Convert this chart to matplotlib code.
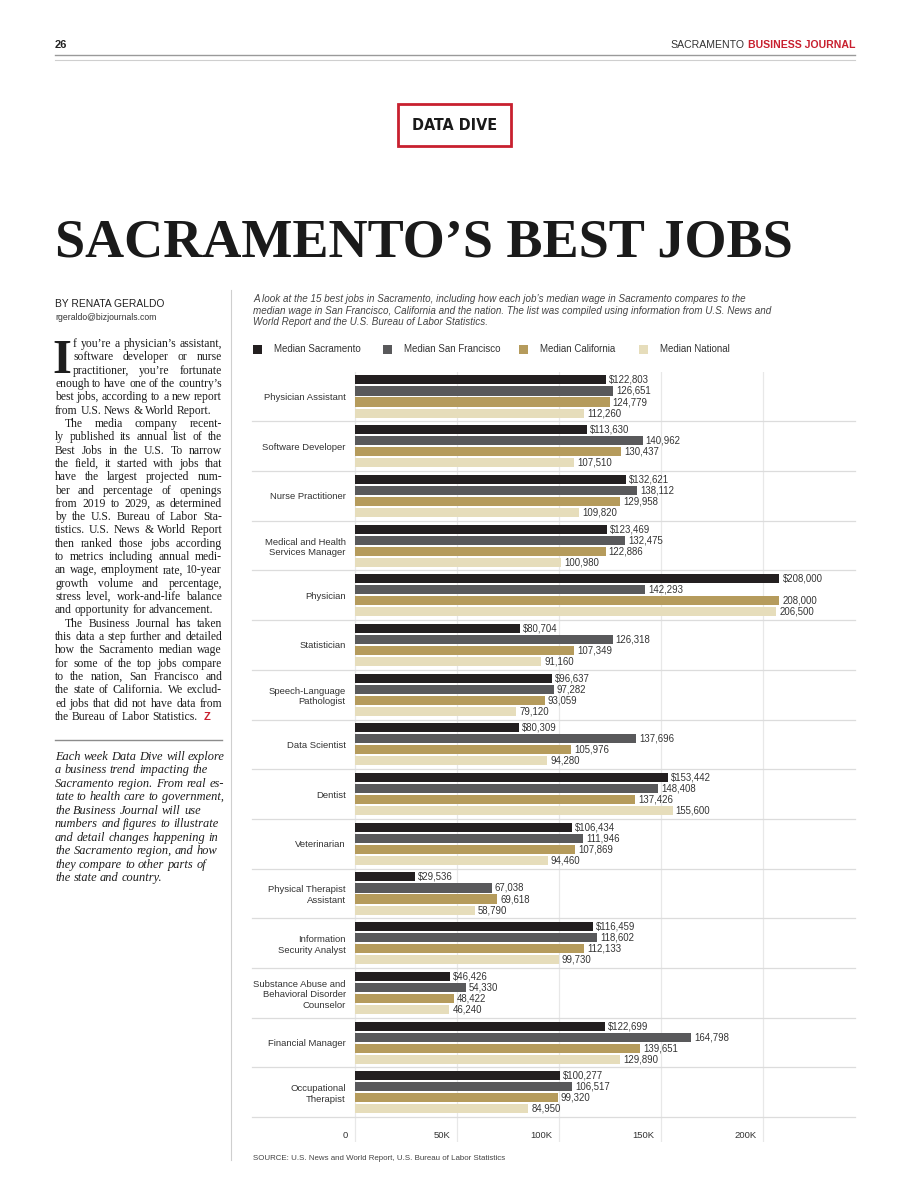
import matplotlib
matplotlib.use('Agg')
import matplotlib.pyplot as plt
from matplotlib.patches import Rectangle
from matplotlib.lines import Line2D
from matplotlib import font_manager
import numpy as np

W, H = 910, 1200

# chart data
jobs = ['Physician Assistant', 'Software Developer', 'Nurse Practitioner',
        'Medical and Health\nServices Manager', 'Physician', 'Statistician',
        'Speech-Language\nPathologist', 'Data Scientist', 'Dentist', 'Veterinarian',
        'Physical Therapist\nAssistant', 'Information\nSecurity Analyst',
        'Substance Abuse and\nBehavioral Disorder\nCounselor', 'Financial Manager',
        'Occupational\nTherapist']
median_sacramento = [122803, 113630, 132621, 123469, 208000, 80704, 96637, 80309,
                     153442, 106434, 29536, 116459, 46426, 122699, 100277]
median_san_francisco = [126651, 140962, 138112, 132475, 142293, 126318, 97282, 137696,
                        148408, 111946, 67038, 118602, 54330, 164798, 106517]
median_california = [124779, 130437, 129958, 122886, 208000, 107349, 93059, 105976,
                     137426, 107869, 69618, 112133, 48422, 139651, 99320]
median_national = [112260, 107510, 109820, 100980, 206500, 91160, 79120, 94280,
                   155600, 94460, 58790, 99730, 46240, 129890, 84950]
series_names = ['Median Sacramento', 'Median San Francisco', 'Median California', 'Median National']
series_colors = ['#231f20', '#59595b', '#b59b5c', '#e6ddbb']
x_ticks = [0, 50000, 100000, 150000, 200000]
x_tick_labels = ['0', '50K', '100K', '150K', '200K']

caption = ['A look at the 15 best jobs in Sacramento, including how each job\u2019s median wage in Sacramento compares to the',
           'median wage in San Francisco, California and the nation. The list was compiled using information from U.S. News and',
           'World Report and the U.S. Bureau of Labor Statistics.']

body = ['f you\u2019re a physician\u2019s assistant,',
        'software developer or nurse',
        'practitioner, you\u2019re fortunate',
        'enough to have one of the country\u2019s',
        'best jobs, according to a new report',
        'from U.S. News & World Report.',
        'The media company recent-',
        'ly published its annual list of the',
        'Best Jobs in the U.S. To narrow',
        'the field, it started with jobs that',
        'have the largest projected num-',
        'ber and percentage of openings',
        'from 2019 to 2029, as determined',
        'by the U.S. Bureau of Labor Sta-',
        'tistics. U.S. News & World Report',
        'then ranked those jobs according',
        'to metrics including annual medi-',
        'an wage, employment rate, 10-year',
        'growth volume and percentage,',
        'stress level, work-and-life balance',
        'and opportunity for advancement.',
        'The Business Journal has taken',
        'this data a step further and detailed',
        'how the Sacramento median wage',
        'for some of the top jobs compare',
        'to the nation, San Francisco and',
        'the state of California. We exclud-',
        'ed jobs that did not have data from',
        'the Bureau of Labor Statistics.']
para_ends = [5, 20, 28]
para_starts = [6, 21]

blurb = ['Each week Data Dive will explore',
         'a business trend impacting the',
         'Sacramento region. From real es-',
         'tate to health care to government,',
         'the Business Journal will use',
         'numbers and figures to illustrate',
         'and detail changes happening in',
         'the Sacramento region, and how',
         'they compare to other parts of',
         'the state and country.']

avail = {f.name for f in font_manager.fontManager.ttflist}
SANS = 'Liberation Sans'
if 'Liberation Sans Narrow' in avail:
    NARROW = dict(family='Liberation Sans Narrow')
else:
    NARROW = dict(family='DejaVu Sans', fontstretch='condensed')
SERIF = 'Liberation Serif'
plt.rcParams['font.family'] = SANS

fig = plt.figure(figsize=(W / 100, H / 100), dpi=100)
fig.patch.set_facecolor('white')
renderer = fig.canvas.get_renderer()


def fx(x):
    return x / W


def fy(y):
    return 1 - y / H


def txt(x, y, s, **kw):
    return fig.text(fx(x), fy(y), s, **kw)


def width_of(s, **kw):
    t = fig.text(0, 0, s, **kw)
    w = t.get_window_extent(renderer).width
    t.remove()
    return w


def hline(x0, x1, y, color, lw):
    fig.add_artist(Line2D([fx(x0), fx(x1)], [fy(y), fy(y)], color=color, lw=lw))


def set_line(line, x0, x1, y, justify, **kw):
    words = line.split(' ')
    widths = [width_of(w, **kw) for w in words]
    space = width_of('a a', **kw) - width_of('aa', **kw)
    gap = space
    if justify and len(words) > 1:
        gap = (x1 - x0 - sum(widths)) / (len(words) - 1)
    x = x0
    for w, wd in zip(words, widths):
        txt(x, y, w, va='baseline', **kw)
        x += wd + gap
    return x


# page header
txt(55, 48, '26', fontsize=8, fontweight='bold', color='#222', va='baseline')
hdr = dict(fontsize=7.6, va='baseline')
txt(855, 48, 'BUSINESS JOURNAL', fontweight='bold', color='#c8202f', ha='right', **hdr)
wb = width_of('BUSINESS JOURNAL', fontsize=7.6, fontweight='bold')
txt(855 - wb - 3, 48, 'SACRAMENTO', color='#333', ha='right', **hdr)
hline(55, 855, 55, '#9a9a9a', 1.0)
hline(55, 855, 60, '#cfcfcf', 0.8)

# DATA DIVE box
fig.add_artist(Rectangle((fx(398), fy(146)), fx(113), 42 / H, fill=False,
                         edgecolor='#c8202f', lw=2))
dd = width_of('DATA DIVE', fontsize=10, fontweight='bold', **NARROW)
txt(455, 126, 'DATA DIVE', fontsize=min(10 * 84 / dd, 15), fontweight='bold',
    color='#1a1a1a', ha='center', va='center', **NARROW)

# headline, sized to the column width
title = 'SACRAMENTO\u2019S BEST JOBS'
tw = width_of(title, family=SERIF, fontsize=40, fontweight='bold')
txt(55, 257, title, family=SERIF, fontsize=40 * 738 / tw, fontweight='bold',
    color='#1a1a1a', va='baseline')

# left column
txt(55, 307, 'BY RENATA GERALDO', fontsize=7.4, color='#222', va='baseline')
txt(55, 320, 'rgeraldo@bizjournals.com', fontsize=6.2, color='#333', va='baseline')

body_kw = dict(family=SERIF, fontsize=8.4, color='#1e1e1e')
txt(52, 373, 'I', family=SERIF, fontsize=35, fontweight='bold', color='#1e1e1e', va='baseline')
for i, line in enumerate(body):
    y = 347 + i * 13.32
    x0 = 55
    if i < 3:
        x0 = 73
    elif i in para_starts:
        x0 = 65
    end = set_line(line, x0, 222, y, i not in para_ends, **body_kw)
txt(end + 3, 720, 'Z', fontsize=8, fontweight='bold', color='#c8202f', va='baseline')

hline(55, 222, 740, '#8c8c8c', 1.0)
for i, line in enumerate(blurb):
    set_line(line, 55, 222, 760 + i * 13.44, False, family=SERIF, style='italic',
             fontsize=8.9, color='#1e1e1e')

fig.add_artist(Line2D([fx(231), fx(231)], [fy(290), fy(1160)], color='#cfcfcf', lw=0.8))

# chart caption and legend
for i, line in enumerate(caption):
    txt(253, 302 + i * 11.5, line, fontsize=7.1, style='italic', color='#444', va='baseline')

legend_sq = [253, 383, 519, 639]
legend_tx = [274, 404, 540, 660]
for name, col, xs, xt in zip(series_names, series_colors, legend_sq, legend_tx):
    fig.add_artist(Rectangle((fx(xs), fy(354)), 9 / W, 9 / H, color=col, lw=0))
    txt(xt, 349.5, name, fontsize=7, color='#333', va='center')

# bar chart
ax = fig.add_axes([fx(354), fy(1142), 501 / W, (1142 - 372) / H])
pitch = 49.7
ax.set_ylim((1142 - 396.5) / pitch, (372 - 396.5) / pitch)
ax.set_xlim(-500, 245000)

pos = np.arange(len(jobs))
series = [median_sacramento, median_san_francisco, median_california, median_national]
step = 0.222
for k, (vals, col) in enumerate(zip(series, series_colors)):
    yy = pos + (k - 1.5) * step
    ax.barh(yy, vals, height=0.182, color=col, zorder=3)
    for v, y in zip(vals, yy):
        lab = f'{v:,}'
        if k == 0:
            lab = '$' + lab
        ax.annotate(lab, (v, y), xytext=(3, 0), textcoords='offset pixels',
                    va='center', ha='left', fontsize=6.9, color='#333')

for i in range(len(jobs)):
    ax.plot([-102 / 501, 1], [i + 0.5, i + 0.5], transform=ax.get_yaxis_transform(),
            clip_on=False, color='#dcdcdc', lw=0.9, zorder=1)

ax.set_xticks(x_ticks)
ax.grid(axis='x', color='#e8e8e8', lw=0.9, zorder=0)
ax.set_axisbelow(True)
ax.tick_params(axis='x', length=0, labelbottom=False)
for tv, tl in zip(x_ticks, x_tick_labels):
    ax.annotate(tl, (tv, (1142 - 1135) / 770), xycoords=('data', 'axes fraction'),
                xytext=(-7, 0), textcoords='offset pixels', ha='right', va='center',
                fontsize=6.8, color='#333')

ax.set_yticks(pos)
ax.set_yticklabels(jobs, fontsize=6.8, color='#333')
ax.tick_params(axis='y', length=0, pad=6)
for s in ax.spines.values():
    s.set_visible(False)

txt(253, 1160, 'SOURCE: U.S. News and World Report, U.S. Bureau of Labor Statistics',
    fontsize=5.7, color='#444', va='baseline')

fig.savefig('out.png', dpi=100)
